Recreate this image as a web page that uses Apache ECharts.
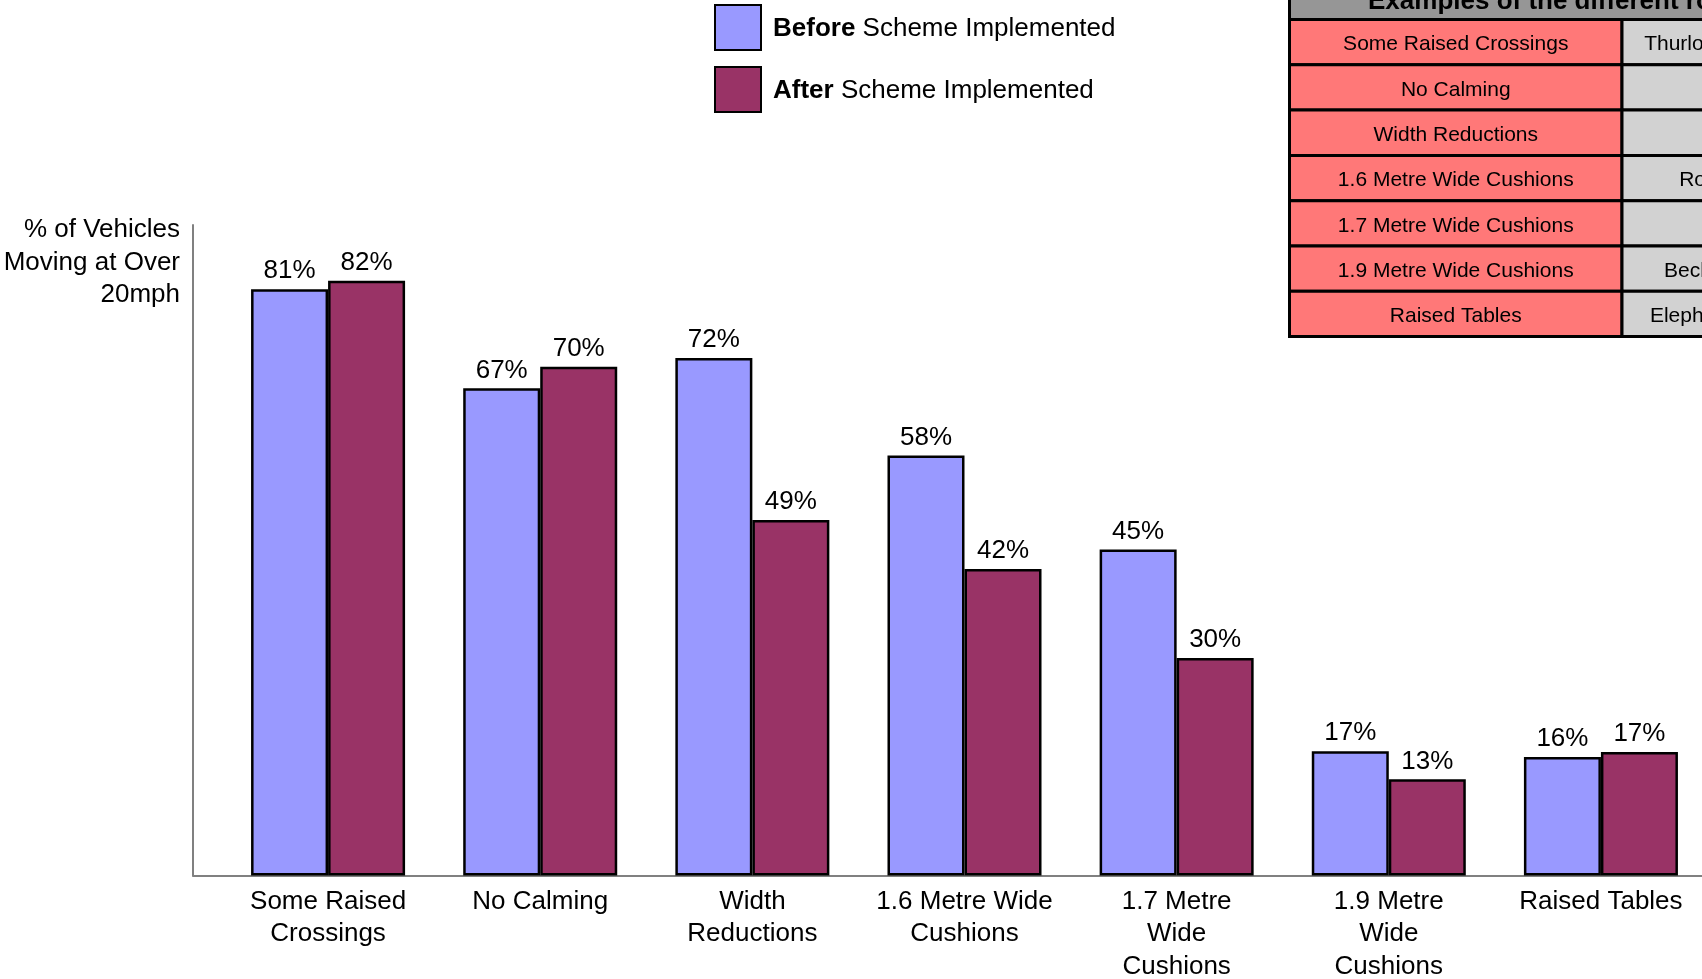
<!DOCTYPE html>
<html>
<head>
<meta charset="utf-8">
<script src="https://cdn.jsdelivr.net/npm/echarts@6/dist/echarts.min.js"></script>
<style>
html,body{margin:0;padding:0;background:#fff;}
#chart{width:1702px;height:979px;}
</style>
</head>
<body>
<div id="chart"></div>
<script>
// ---- Data ----
const categories = ['Some Raised Crossings', 'No Calming', 'Width Reductions', '1.6 Metre Wide Cushions', '1.7 Metre Wide Cushions', '1.9 Metre Wide Cushions', 'Raised Tables'];
const axisLabels = ['Some Raised\nCrossings', 'No Calming', 'Width\nReductions', '1.6 Metre Wide\nCushions', '1.7 Metre\nWide\nCushions', '1.9 Metre\nWide\nCushions', 'Raised Tables'];
const seriesNames = ['Before Scheme Implemented', 'After Scheme Implemented'];
const beforeValues = [81.1, 67.4, 71.6, 58.1, 45.1, 17.2, 16.4];
const afterValues = [82.3, 70.4, 49.2, 42.4, 30.1, 13.3, 17.1];
const yAxisName = '% of Vehicles\nMoving at Over\n20mph';
const yMin = 0;
const yMax = 90;
const tableTitle = 'Examples of the different roads';
const exampleRoads = ['Thurlow Park Road', '', '', 'Royal Road', '', 'Beckwith Road', 'Elephant & Castle'];

// ---- Styling ----
const FONT = "'Liberation Sans', Arial, Helvetica, sans-serif";
const colors = ['#9999FF', '#993366'];
const axisColor = '#808080';

const chart = echarts.init(document.getElementById('chart'), null, {renderer: 'canvas'});

// Table graphic (built from categories + exampleRoads)
const tLeft = 1289.5, tSplit = 1622, tRight = 1846, tTop = 19.5, rowH = 45.3;
const tableEls = [];
tableEls.push({type: 'rect', shape: {x: tLeft, y: -40, width: tRight - tLeft, height: 40 + tTop},
  style: {fill: '#969696', stroke: '#000', lineWidth: 3}});
tableEls.push({type: 'text', x: 1368, y: 15,
  style: {text: tableTitle, fontFamily: FONT, fontSize: 26, fontWeight: 'bold', fill: '#000', align: 'left', verticalAlign: 'bottom'}});
categories.forEach((c, i) => {
  const y = tTop + i * rowH;
  tableEls.push({type: 'rect', shape: {x: tLeft, y: y, width: tSplit - tLeft, height: rowH},
    style: {fill: '#FF7878', stroke: '#000', lineWidth: 3}});
  tableEls.push({type: 'rect', shape: {x: tSplit, y: y, width: tRight - tSplit, height: rowH},
    style: {fill: '#D2D2D2', stroke: '#000', lineWidth: 3}});
  tableEls.push({type: 'text', x: (tLeft + tSplit) / 2, y: y + rowH / 2 + 2.5,
    style: {text: c, fontFamily: FONT, fontSize: 21, fill: '#000', align: 'center', verticalAlign: 'middle'}});
  if (exampleRoads[i]) {
    tableEls.push({type: 'text', x: (tSplit + tRight) / 2, y: y + rowH / 2 + 2.5,
      style: {text: exampleRoads[i], fontFamily: FONT, fontSize: 21, fill: '#000', align: 'center', verticalAlign: 'middle'}});
  }
});

const barLabel = {
  show: true, position: 'top', distance: 5,
  fontFamily: FONT, fontSize: 26, color: '#000',
  formatter: p => Math.round(p.value) + '%'
};

const option = {
  backgroundColor: '#fff',
  animation: false,
  textStyle: {fontFamily: FONT},
  legend: {
    orient: 'vertical', left: 714, top: 4, padding: 0,
    itemWidth: 46, itemHeight: 45, itemGap: 15, icon: 'rect',
    selectedMode: false,
    data: seriesNames,
    formatter: name => {
      const i = name.indexOf(' ');
      return '{b|' + name.slice(0, i) + '} {r|' + name.slice(i + 1) + '}';
    },
    textStyle: {
      fontFamily: FONT, fontSize: 26, color: '#000', padding: [2, 0, 0, 7],
      rich: {
        b: {fontFamily: FONT, fontSize: 26, fontWeight: 'bold', color: '#000'},
        r: {fontFamily: FONT, fontSize: 26, color: '#000'}
      }
    }
  },
  grid: [
    {left: 222, width: 1485, top: 225, bottom: 103.5, outerBoundsMode: 'none', containLabel: false},
    {left: 193, right: 0, top: 225, bottom: 103.5, outerBoundsMode: 'none', containLabel: false}
  ],
  xAxis: [
    {
      type: 'category', gridIndex: 0, data: axisLabels,
      axisLine: {show: false}, axisTick: {show: false},
      axisLabel: {interval: 0, fontFamily: FONT, fontSize: 26, lineHeight: 32.5, color: '#000', margin: 10}
    },
    {
      type: 'value', gridIndex: 1, min: 0, max: 1,
      axisLine: {show: true, lineStyle: {color: axisColor, width: 2}},
      axisTick: {show: false}, axisLabel: {show: false}, splitLine: {show: false}
    }
  ],
  yAxis: [
    {
      type: 'value', gridIndex: 0, min: yMin, max: yMax,
      axisLine: {show: false}, axisTick: {show: false}, axisLabel: {show: false}, splitLine: {show: false}
    },
    {
      type: 'value', gridIndex: 1, min: 0, max: 1,
      axisLine: {show: true, lineStyle: {color: axisColor, width: 2}},
      axisTick: {show: false}, axisLabel: {show: false}, splitLine: {show: false}
    }
  ],
  series: [
    {
      name: seriesNames[0], type: 'bar', xAxisIndex: 0, yAxisIndex: 0,
      data: beforeValues, barGap: '0%', barCategoryGap: '27.4%',
      itemStyle: {color: colors[0], borderColor: '#000', borderWidth: 2.5},
      label: barLabel
    },
    {
      name: seriesNames[1], type: 'bar', xAxisIndex: 0, yAxisIndex: 0,
      data: afterValues, barGap: '0%', barCategoryGap: '27.4%',
      itemStyle: {color: colors[1], borderColor: '#000', borderWidth: 2.5},
      label: barLabel
    }
  ],
  graphic: [
    {type: 'text', x: 180, y: 214,
      style: {text: yAxisName, fontFamily: FONT, fontSize: 26, lineHeight: 32.5, fill: '#000', align: 'right', verticalAlign: 'top'}},
    {type: 'group', children: tableEls}
  ]
};
chart.setOption(option);
</script>
</body>
</html>
